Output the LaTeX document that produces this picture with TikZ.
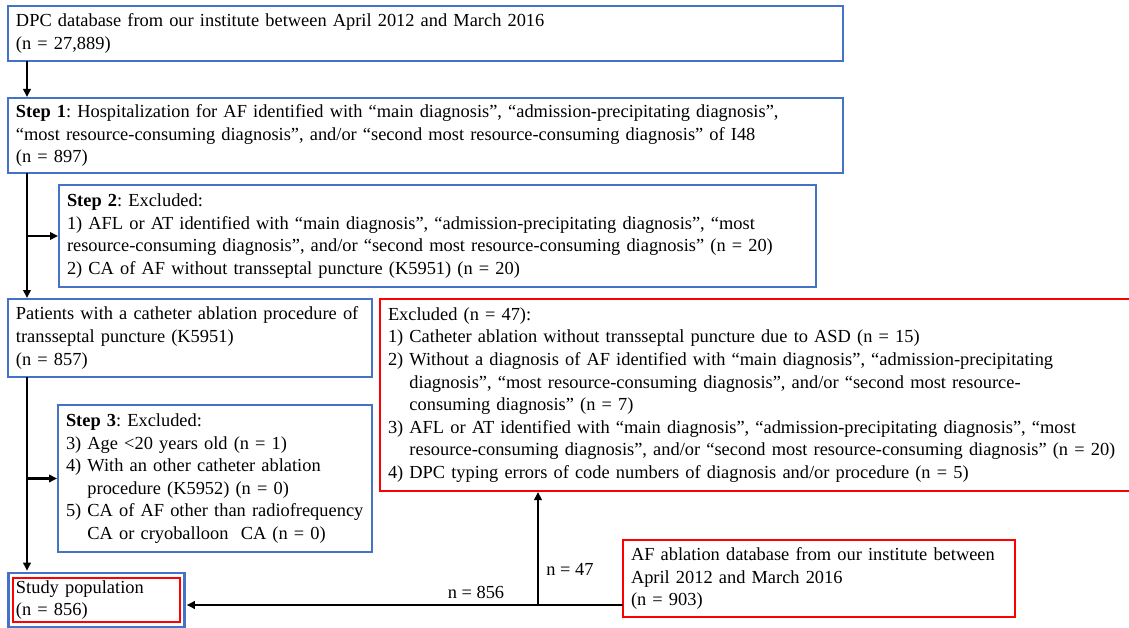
\documentclass[tikz,border=0pt]{standalone}
\usepackage{fontspec}
\setmainfont{Liberation Serif}
\usetikzlibrary{positioning,fit,arrows.meta}
\definecolor{bblue}{RGB}{68,114,196}
\definecolor{rred}{RGB}{255,0,0}
\newcommand{\boxfont}{\fontsize{18.4}{22.6}\selectfont\frenchspacing\hyphenpenalty=10000\exhyphenpenalty=10000}
\begin{document}
\begin{tikzpicture}[x=1pt,y=-1pt,
   box/.style={draw=#1,line width=2.6pt,anchor=north west,align=left,inner xsep=8pt,inner ysep=0pt,outer sep=0pt,font=\boxfont},
   box/.default=bblue,
   arr/.style={line width=2.4pt,shorten >=1pt,-{Triangle[length=8pt,width=7.5pt]}},
   lbl/.style={font=\boxfont,anchor=base,inner sep=0pt}]
\useasboundingbox (0,0) rectangle (1129,628);
% left column
\node[box,text width=819pt,minimum height=55pt] (dpc) at (8,6)
  {DPC database from our institute between April 2012 and March 2016\\(n = 27,889)};
\node[box,text width=819pt,minimum height=75pt] (step1) at (8,98)
  {\textbf{Step 1}: Hospitalization for AF identified with “main diagnosis”, “admission-precipitating diagnosis”,\\
   “most resource-consuming diagnosis”, and/or “second most resource-consuming diagnosis” of I48\\
   (n = 897)};
\node[box,text width=741pt,minimum height=102pt] (step2) at (59,185)
  {\textbf{Step 2}: Excluded:\\
   1) AFL or AT identified with “main diagnosis”, “admission-precipitating diagnosis”, “most\\
   resource-consuming diagnosis”, and/or “second most resource-consuming diagnosis” (n = 20)\\
   2) CA of AF without transseptal puncture (K5951) (n = 20)};
\node[box,text width=348pt,minimum height=78pt] (pat) at (8,299)
  {Patients with a catheter ablation procedure of\\transseptal puncture (K5951)\\(n = 857)};
\node[box,text width=298pt,minimum height=147pt] (step3) at (58,405)
  {\textbf{Step 3}: Excluded:\\
   3) Age <20 years old (n = 1)\\
   4) With an other catheter ablation\\
   \phantom{4) }procedure (K5952) (n = 0)\\
   5) CA of AF other than radiofrequency\\
   \phantom{5) }CA or cryoballoon~ CA (n = 0)};
\node[box=rred,inner xsep=3pt,text width=161pt,minimum height=44pt] (pop) at (13,578)
  {Study population\\(n = 856)};
\node[fit=(pop),draw=bblue,line width=2.6pt,inner xsep=4.5pt,inner ysep=5pt] (popb) {};
% right side
\node[box=rred,text width=744pt,minimum height=192pt] (excl) at (380,299)
  {Excluded (n = 47):\\
   1) Catheter ablation without transseptal puncture due to ASD (n = 15)\\
   2) Without a diagnosis of AF identified with “main diagnosis”, “admission-precipitating\\
   \phantom{2) }diagnosis”, “most resource-consuming diagnosis”, and/or “second most resource-\\
   \phantom{2) }consuming diagnosis” (n = 7)\\
   3) AFL or AT identified with “main diagnosis”, “admission-precipitating diagnosis”, “most\\
   \phantom{3) }resource-consuming diagnosis”, and/or “second most resource-consuming diagnosis” (n = 20)\\
   4) DPC typing errors of code numbers of diagnosis and/or procedure (n = 5)};
\node[box=rred,text width=376pt,minimum height=77pt] (afdb) at (623,540)
  {AF ablation database from our institute between\\April 2012 and March 2016\\(n = 903)};
% connectors
\coordinate (trk1) at ([xshift=19pt]step1.south west);
\coordinate (trk2) at ([xshift=19pt]pat.south west);
\coordinate (split) at (538,605);
\draw[arr] ([xshift=19pt]dpc.south west) -- ([xshift=19pt]step1.north west);
\draw[arr] (trk1) -- ([xshift=19pt]pat.north west);
\draw[arr] (trk1 |- step2.west) -- (step2.west);
\draw[arr] (trk2) -- (trk2 |- popb.north);
\draw[arr] (trk2 |- step3.west) -- (step3.west);
\draw[arr] (afdb.west |- split) -- (popb.east |- split);
\draw[arr] (split) -- (split |- excl.south);
\node[lbl] (n856) at (476,598) {n = 856};
\node[lbl] (n47) at (570,575) {n = 47};
\end{tikzpicture}
\end{document}
